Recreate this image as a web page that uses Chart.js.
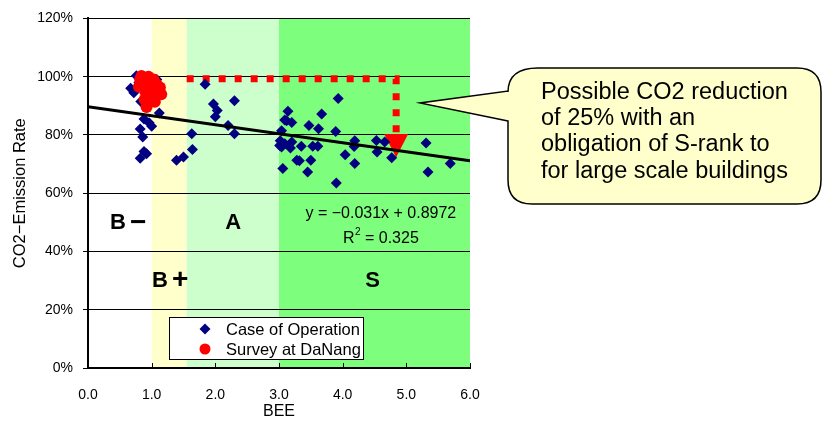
<!DOCTYPE html>
<html>
<head>
<meta charset="utf-8">
<script src="https://cdn.jsdelivr.net/npm/chart.js@4/dist/chart.umd.min.js"></script>
<style>
  html, body { margin: 0; padding: 0; background: #ffffff; }
  #wrap { width: 824px; height: 423px; position: relative; }
</style>
</head>
<body>
<div id="wrap"><canvas id="chart" width="824" height="423"></canvas></div>
<script>
// Buildings from the operation database: BEE vs. CO2 emission rate
const operationBEE = [
  0.67, 0.76, 0.80, 0.97, 1.08, 0.72, 0.83, 1.12, 0.88, 0.96, 1.00, 0.82, 0.86, 0.88, 0.92, 0.82,
  1.39, 1.50, 1.63, 1.64, 1.84, 1.97, 2.03, 2.00, 2.30, 2.20, 2.30,
  3.02, 3.09, 3.04, 3.12, 3.06, 3.93, 3.14, 3.09, 3.20, 3.67, 3.47, 3.62, 3.89, 3.04, 3.01,
  3.20, 3.18, 3.35, 3.53, 3.61, 3.28, 3.32, 3.50, 3.45, 3.90, 4.04, 4.19, 4.19, 4.18,
  4.53, 4.66, 4.54, 4.77, 5.31, 5.34, 5.69
];
const operationRate = [
  0.960, 1.003, 0.980, 1.000, 0.990, 0.945, 0.915, 0.875, 0.855, 0.842, 0.830, 0.820, 0.793, 0.743, 0.735, 0.720,
  0.713, 0.724, 0.804, 0.750, 0.974, 0.906, 0.884, 0.862, 0.917, 0.832, 0.804,
  0.780, 0.770, 0.759, 0.849, 0.685, 0.925, 0.881, 0.851, 0.843, 0.872, 0.832, 0.821, 0.812, 0.814, 0.764,
  0.776, 0.755, 0.761, 0.761, 0.761, 0.713, 0.711, 0.713, 0.673, 0.635, 0.732, 0.780, 0.702, 0.760,
  0.781, 0.776, 0.741, 0.722, 0.772, 0.673, 0.702
];

// Survey at DaNang
const danangBEE = [
  0.84, 0.95, 1.03, 1.08, 0.97, 0.87, 0.82, 1.05, 0.95, 0.89, 0.92, 1.10, 1.00, 1.13, 1.05, 0.80, 0.90, 1.15
];
const danangRate = [
  1.002, 1.000, 0.990, 0.973, 0.962, 0.973, 0.990, 0.944, 0.933, 0.922, 0.896, 0.956, 0.980, 0.963, 0.914, 0.965, 0.950, 0.940
];

// Linear fit of the operation data
const trendSlope = -0.031;
const trendIntercept = 0.8972;
const trendR2 = 0.325;
const trendRange = [0, 6];

// CASBEE rank bands along BEE
const rankBounds = [0, 1.0, 1.55, 3.0, 6.0];
const rankColors = ['#FFFFFF', '#FFFFCC', '#CCFFCC', '#7DFF7D'];
const rankLabels = ['B−', 'B+', 'A', 'S'];
const rankLabelBEE = [0.63, 1.29, 2.28, 4.47];
const rankLabelRate = [0.497, 0.30, 0.497, 0.30];

// Reduction path: from current level down to the S-rank target
const targetPathBEE = [1.55, 4.84, 4.84];
const targetPathRate = [0.993, 0.993, 0.803];
const targetTipRate = 0.723;

const xTickValues = [0, 1, 2, 3, 4, 5, 6];
const yTickValues = [0, 0.2, 0.4, 0.6, 0.8, 1.0, 1.2];

const calloutLines = [
  'Possible CO2 reduction',
  'of 25% with an',
  'obligation of S-rank to',
  'for large scale buildings'
];

const FONT = '"Liberation Sans", Arial, sans-serif';

const toPoints = (xs, ys) => xs.map((x, i) => ({ x: x, y: ys[i] }));

const bandsPlugin = {
  id: 'bands',
  beforeDraw(chart) {
    const { ctx, chartArea: a, scales: { x } } = chart;
    ctx.save();
    ctx.fillStyle = '#ffffff';
    ctx.fillRect(0, 0, chart.width, chart.height);
    for (let i = 0; i < rankColors.length; i++) {
      const l = x.getPixelForValue(rankBounds[i]);
      const r = x.getPixelForValue(rankBounds[i + 1]);
      ctx.fillStyle = rankColors[i];
      ctx.fillRect(l, a.top, r - l, a.bottom - a.top);
    }
    ctx.restore();
  }
};

const arrowHeadPlugin = {
  id: 'arrowHead',
  afterDatasetDraw(chart, args) {
    if (args.index !== 0) return;
    const { ctx, scales: { x, y } } = chart;
    const n = targetPathBEE.length - 1;
    const cx = x.getPixelForValue(targetPathBEE[n]);
    const baseY = y.getPixelForValue(targetPathRate[n]);
    const tipY = y.getPixelForValue(targetTipRate);
    ctx.save();
    ctx.fillStyle = '#FF0000';
    ctx.beginPath();
    ctx.moveTo(cx - 12, baseY);
    ctx.lineTo(cx + 12, baseY);
    ctx.lineTo(cx, tipY);
    ctx.closePath();
    ctx.fill();
    ctx.restore();
  }
};

const annotationsPlugin = {
  id: 'annotations',
  afterDatasetsDraw(chart) {
    const { ctx, chartArea: a, scales: { x, y } } = chart;
    ctx.save();

    // inward ticks on the BEE axis
    ctx.strokeStyle = '#000';
    ctx.lineWidth = 1;
    xTickValues.forEach(v => {
      if (v === 0) return;
      const px = Math.round(x.getPixelForValue(v)) + 0.5;
      ctx.beginPath();
      ctx.moveTo(px, a.bottom);
      ctx.lineTo(px, a.bottom - 5);
      ctx.stroke();
    });

    // rank names
    const letterFont = 'bold 22px ' + FONT;
    const signFont = 'bold 28px ' + FONT;
    ctx.fillStyle = '#000';
    ctx.textAlign = 'left';
    ctx.textBaseline = 'middle';
    rankLabels.forEach((t, i) => {
      const cx = x.getPixelForValue(rankLabelBEE[i]);
      const cy = y.getPixelForValue(rankLabelRate[i]);
      ctx.font = letterFont;
      if (t.length > 1) {
        const gap = 4;
        const wB = ctx.measureText(t[0]).width;
        ctx.font = signFont;
        const wS = ctx.measureText(t[1]).width;
        const sx = cx - (wB + gap + wS) / 2;
        ctx.font = letterFont;
        ctx.fillText(t[0], sx, cy);
        ctx.font = signFont;
        ctx.fillText(t[1], sx + wB + gap, cy);
      } else {
        const w = ctx.measureText(t).width;
        ctx.fillText(t, cx - w / 2, cy);
      }
    });

    // regression equation
    ctx.textAlign = 'center';
    ctx.font = '16px ' + FONT;
    const eqX = x.getPixelForValue(4.6);
    const sign = trendSlope < 0 ? '−' : '';
    ctx.fillText('y = ' + sign + Math.abs(trendSlope).toFixed(3) + 'x + ' + trendIntercept.toFixed(4), eqX, y.getPixelForValue(0.53));
    const r2Y = y.getPixelForValue(0.445);
    const r2Text = ' = ' + trendR2.toFixed(3);
    const wR = ctx.measureText('R').width;
    const wRest = ctx.measureText(r2Text).width;
    const total = wR + 6 + wRest;
    const sx = eqX - total / 2;
    ctx.textAlign = 'left';
    ctx.fillText('R', sx, r2Y);
    ctx.font = '10px ' + FONT;
    ctx.fillText('2', sx + wR + 0.5, r2Y - 6);
    ctx.font = '16px ' + FONT;
    ctx.fillText(r2Text, sx + wR + 6, r2Y);

    // legend
    const lx = 169, ly = 317, lw = 194, lh = 42;
    ctx.fillStyle = '#ffffff';
    ctx.fillRect(lx, ly, lw, lh);
    ctx.strokeStyle = '#000';
    ctx.lineWidth = 1;
    ctx.strokeRect(lx + 0.5, ly + 0.5, lw, lh);
    const entries = [chart.data.datasets[1], chart.data.datasets[3]];
    entries.forEach((ds, i) => {
      const my = ly + 12 + i * 20;
      const mx = lx + 36;
      ctx.fillStyle = ds.backgroundColor;
      ctx.beginPath();
      if (ds.pointStyle === 'rectRot') {
        ctx.moveTo(mx, my - 5.5);
        ctx.lineTo(mx + 5.5, my);
        ctx.lineTo(mx, my + 5.5);
        ctx.lineTo(mx - 5.5, my);
        ctx.closePath();
      } else {
        ctx.arc(mx, my, 5.5, 0, Math.PI * 2);
      }
      ctx.fill();
      ctx.fillStyle = '#000';
      ctx.font = '16.5px ' + FONT;
      ctx.textAlign = 'left';
      ctx.textBaseline = 'middle';
      ctx.fillText(ds.label, lx + 57, my + 1);
    });

    ctx.restore();
  },
  afterDraw(chart) {
    const { ctx } = chart;
    // callout balloon
    const x0 = 508, y0 = 68, x1 = 821, y1 = 204, r = 24;
    const tipX = 420, tipY = 103, baseTop = 91, baseBot = 121;
    ctx.save();
    ctx.beginPath();
    ctx.moveTo(x0, baseBot);
    ctx.lineTo(tipX, tipY);
    ctx.lineTo(x0, baseTop);
    ctx.lineTo(x0, y0 + r);
    ctx.quadraticCurveTo(x0, y0, x0 + r + 6, y0);
    ctx.lineTo(x1 - r, y0);
    ctx.quadraticCurveTo(x1, y0, x1, y0 + r);
    ctx.lineTo(x1, y1 - r);
    ctx.quadraticCurveTo(x1, y1, x1 - r, y1);
    ctx.lineTo(x0 + r, y1);
    ctx.quadraticCurveTo(x0, y1, x0, y1 - r);
    ctx.closePath();
    ctx.fillStyle = '#FFFFCC';
    ctx.fill();
    ctx.strokeStyle = '#000';
    ctx.lineWidth = 1.5;
    ctx.stroke();
    ctx.fillStyle = '#000';
    ctx.font = '23.5px ' + FONT;
    ctx.textAlign = 'left';
    ctx.textBaseline = 'alphabetic';
    calloutLines.forEach((t, i) => ctx.fillText(t, 541, 99 + i * 26.2));
    ctx.restore();
  }
};

new Chart(document.getElementById('chart'), {
  type: 'scatter',
  data: {
    datasets: [
      {
        label: 'S-rank target',
        data: toPoints(targetPathBEE, targetPathRate),
        showLine: true,
        borderColor: '#FF0000',
        borderWidth: 7,
        borderDash: [7, 9],
        borderCapStyle: 'butt',
        borderJoinStyle: 'miter',
        pointRadius: 0,
        fill: false,
        order: 4
      },
      {
        label: 'Case of Operation',
        data: toPoints(operationBEE, operationRate),
        pointStyle: 'rectRot',
        pointRadius: 5.5,
        backgroundColor: '#000080',
        borderColor: '#000080',
        borderWidth: 0,
        order: 3
      },
      {
        label: 'Linear fit',
        data: trendRange.map(v => ({ x: v, y: trendIntercept + trendSlope * v })),
        showLine: true,
        borderColor: '#000000',
        borderWidth: 3,
        pointRadius: 0,
        fill: false,
        order: 2
      },
      {
        label: 'Survey at DaNang',
        data: toPoints(danangBEE, danangRate),
        pointStyle: 'circle',
        pointRadius: 6,
        backgroundColor: '#FF0000',
        borderColor: '#FF0000',
        borderWidth: 0,
        order: 1
      }
    ]
  },
  options: {
    responsive: false,
    animation: false,
    devicePixelRatio: 1,
    layout: { padding: { top: 15, right: 354, bottom: 0, left: 0 } },
    plugins: {
      legend: { display: false },
      tooltip: { enabled: false }
    },
    scales: {
      x: {
        type: 'linear',
        min: 0,
        max: 6,
        afterFit: s => { s.height = 55; },
        afterBuildTicks: s => { s.ticks = xTickValues.map(v => ({ value: v })); },
        ticks: {
          color: '#000',
          font: { family: FONT, size: 14 },
          padding: 19,
          maxRotation: 0,
          callback: v => Number(v).toFixed(1)
        },
        grid: { display: true, drawOnChartArea: false, drawTicks: false },
        border: { display: true, color: '#000', width: 2 },
        title: {
          display: true,
          text: 'BEE',
          color: '#000',
          font: { family: FONT, size: 16 },
          padding: { top: 0, bottom: 2 }
        }
      },
      y: {
        type: 'linear',
        min: 0,
        max: 1.2,
        afterFit: s => { s.width = 88; },
        afterBuildTicks: s => { s.ticks = yTickValues.map(v => ({ value: v })); },
        ticks: {
          color: '#000',
          font: { family: FONT, size: 14 },
          padding: 10,
          callback: v => Math.round(v * 100) + '%'
        },
        grid: { color: '#000', lineWidth: 1, tickLength: 5, drawTicks: true },
        border: { display: true, color: '#000', width: 2 },
        title: {
          display: true,
          text: 'CO2−Emission Rate',
          color: '#000',
          font: { family: FONT, size: 16.5 },
          padding: { top: 11, bottom: 0 }
        }
      }
    }
  },
  plugins: [bandsPlugin, arrowHeadPlugin, annotationsPlugin]
});
</script>
</body>
</html>
